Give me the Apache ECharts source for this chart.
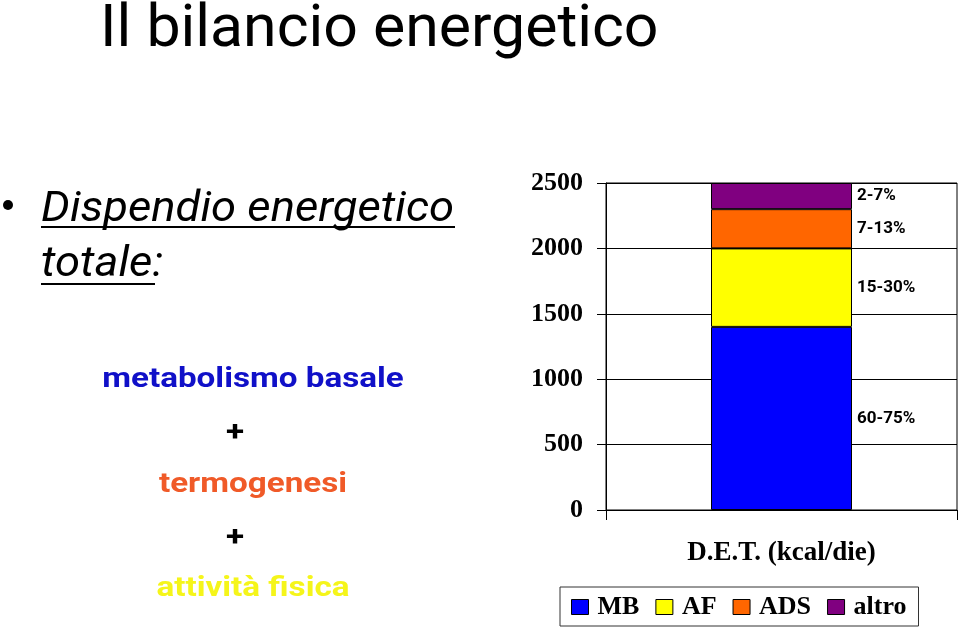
<!DOCTYPE html>
<html><head><meta charset="utf-8">
<script src="https://cdn.jsdelivr.net/npm/echarts@6/dist/echarts.min.js"></script>
<style>html,body{margin:0;padding:0;background:#fff}#c{width:960px;height:629px}</style>
</head><body><div id="c"></div>
<script>
const categories = ['D.E.T. (kcal/die)'];
const seriesNames = ['MB', 'AF', 'ADS', 'altro'];
const mbValues = [1400];
const afValues = [600];
const adsValues = [300];
const altroValues = [200];
const rangeLabels = ['60-75%', '15-30%', '7-13%', '2-7%'];
const yTicks = [0, 500, 1000, 1500, 2000, 2500];
const colors = ['#0000ff', '#ffff00', '#ff6600', '#800080'];
const valuesList = [mbValues, afValues, adsValues, altroValues];

const chart = echarts.init(document.getElementById('c'));
const serif = '"Liberation Serif", "Times New Roman", serif';
const sans = 'Roboto, "Open Sans", sans-serif';

const series = seriesNames.map((n, i) => ({
  name: n, type: 'bar', stack: 'tot', barWidth: 141,
  data: valuesList[i],
  itemStyle: { color: colors[i], borderColor: '#000', borderWidth: 1 },
  label: { show: true, position: 'right', distance: 5, formatter: () => rangeLabels[i],
    fontFamily: sans, fontWeight: 'bold', fontSize: 17, color: '#000' },
  emphasis: { disabled: true }
}));

function txt(t, x, y, size, opts) {
  return Object.assign({ type: 'text', x: x, y: y, scaleX: opts.sx || 1,
    style: { text: t, align: opts.align || 'left', verticalAlign: 'middle', fontFamily: sans,
      fontWeight: opts.bold ? 'bold' : 'normal', fontStyle: opts.italic ? 'italic' : 'normal',
      fontSize: size, fill: opts.color || '#000' } });
}

chart.setOption({
  animation: false,
  backgroundColor: '#fff',
  grid: { left: 606, right: 3, top: 183, bottom: 119, show: true, borderColor: '#000', borderWidth: 1 },
  xAxis: { type: 'category', data: categories, boundaryGap: true,
    axisLine: { lineStyle: { color: '#000' } },
    axisTick: { show: true, length: 10, lineStyle: { color: '#000' } },
    axisLabel: { margin: 30, fontFamily: serif, fontWeight: 'bold', fontSize: 27, color: '#000' } },
  yAxis: { type: 'value', min: yTicks[0], max: yTicks[yTicks.length - 1], interval: 500,
    axisLine: { show: true, lineStyle: { color: '#000' } },
    axisTick: { show: true, length: 9, lineStyle: { color: '#000' } },
    splitLine: { lineStyle: { color: '#000' } },
    axisLabel: { margin: 23, fontFamily: serif, fontWeight: 'bold', fontSize: 26, color: '#000',
      formatter: v => String(v) } },
  legend: { left: 560, top: 587, data: seriesNames, borderColor: '#333', borderWidth: 1,
    padding: [7, 12, 6, 11], itemWidth: 17, itemHeight: 15, itemGap: 16, icon: 'rect',
    itemStyle: { borderColor: '#000', borderWidth: 1 },
    textStyle: { fontFamily: serif, fontWeight: 'bold', fontSize: 26, color: '#000', padding: [0, 0, 0, 4] } },
  series: series,
  graphic: [
    txt('Il bilancio energetico', 100, 31, 59, { sx: 1.03 }),
    { type: 'circle', shape: { cx: 8, cy: 205, r: 5 }, style: { fill: '#000' } },
    txt('Dispendio energetico', 41, 210, 42, { italic: true, sx: 1.08 }),
    { type: 'rect', shape: { x: 41, y: 226, width: 414, height: 2 }, style: { fill: '#000' } },
    txt('totale:', 41, 265, 42, { italic: true, sx: 1.08 }),
    { type: 'rect', shape: { x: 41, y: 283, width: 114, height: 2 }, style: { fill: '#000' } },
    txt('metabolismo basale', 253, 380, 27, { bold: true, align: 'center', sx: 1.23, color: '#1010c8' }),
    txt('+', 235, 434, 27, { bold: true, align: 'center', sx: 1.23 }),
    txt('termogenesi', 253, 485, 27, { bold: true, align: 'center', sx: 1.23, color: '#f05a28' }),
    txt('+', 235, 539, 27, { bold: true, align: 'center', sx: 1.23 }),
    txt('attività fisica', 253, 589, 27, { bold: true, align: 'center', sx: 1.23, color: '#f5f51a' })
  ]
});
</script></body></html>
